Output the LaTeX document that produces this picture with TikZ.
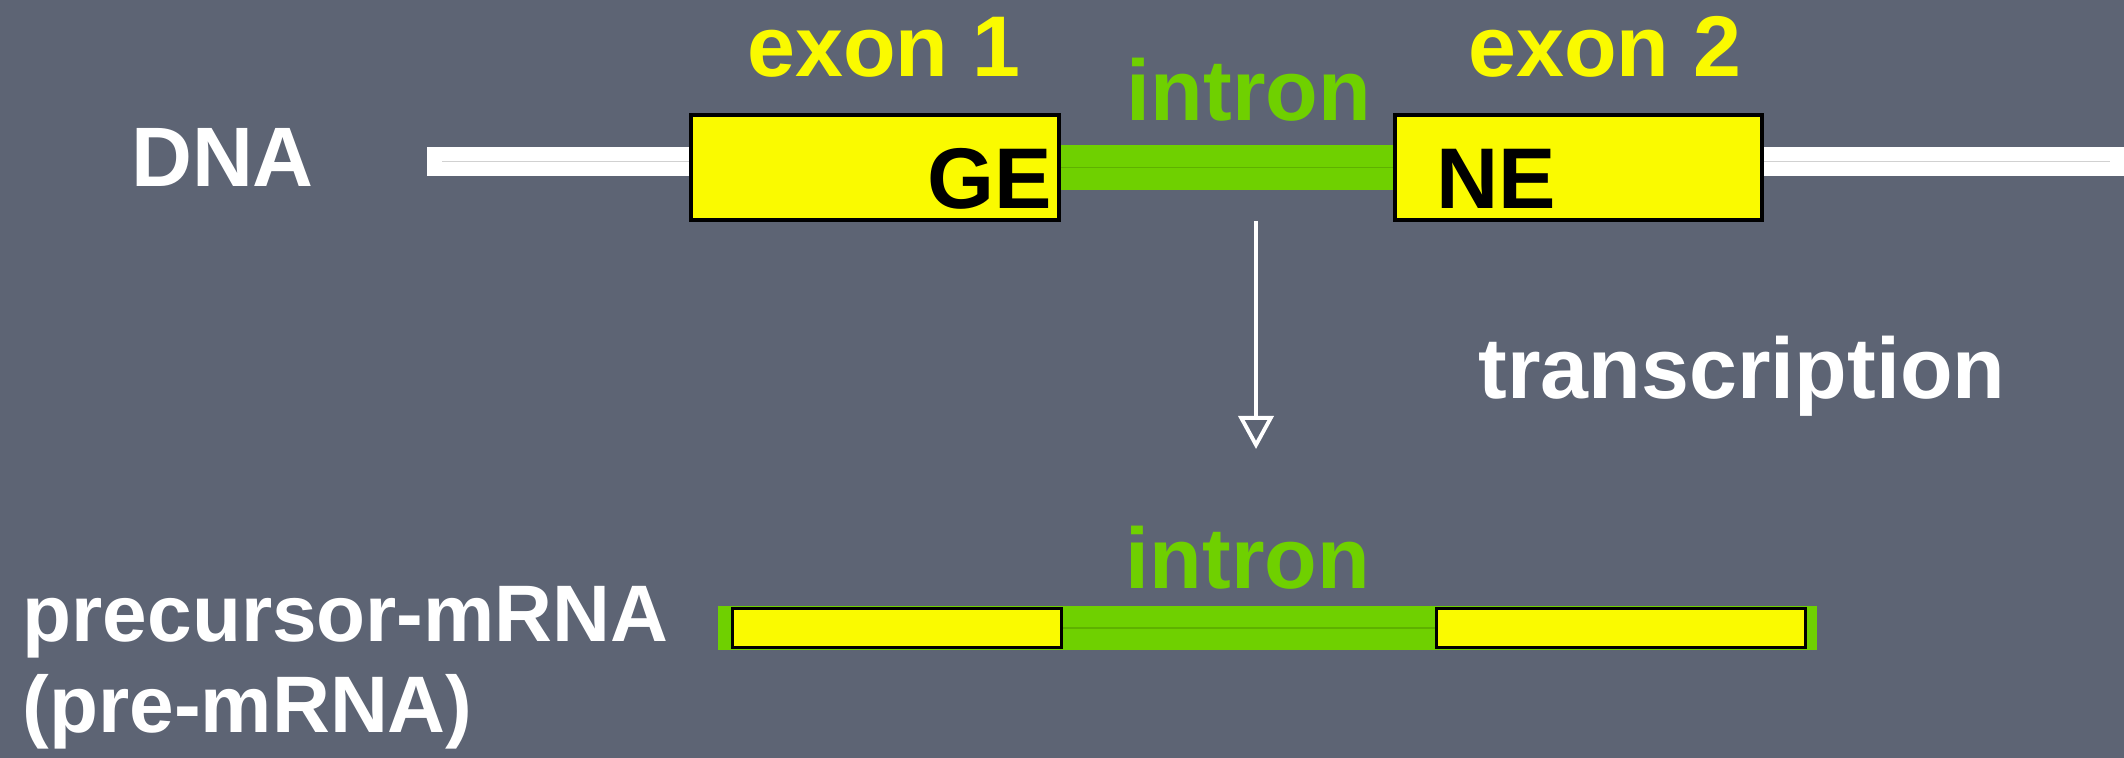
\documentclass[tikz,border=0pt]{standalone}
\usepackage{fontspec}
\setmainfont{Liberation Sans}
\usetikzlibrary{arrows.meta,backgrounds}
\definecolor{slate}{RGB}{93,100,116}
\definecolor{exonyel}{RGB}{250,250,0}
\definecolor{introngrn}{RGB}{111,208,0}
\begin{document}
\begin{tikzpicture}[x=0.01cm, y=-0.01cm,
  lbl/.style={font=\bfseries\fontsize{24.5}{29}\selectfont, inner sep=0pt, anchor=base},
  exon/.style={draw=black, fill=exonyel, line width=1.1pt, inner sep=0pt},
  strand/.style={white, line width=0.29cm},
  intronbar/.style={introngrn, line width=0.45cm}]
\useasboundingbox (0,0) rectangle (2124,758);
\coordinate (dnastart) at (427,161.5);
\coordinate (dnaend) at (2124,161.5);
\coordinate (rnastart) at (718,628);
\coordinate (rnaend) at (1817,628);
\coordinate (txtop) at (1256,221);
\coordinate (txbot) at (1256,449);
% DNA with the two exons
\node[exon, minimum width=3.68cm, minimum height=1.05cm] (exon1) at (875,167.5) {};
\node[exon, minimum width=3.67cm, minimum height=1.05cm] (exon2) at (1578.5,167.5) {};
\node[lbl, white, font=\bfseries\fontsize{24}{29}\selectfont] (dna) at (222.5,187) {DNA};
\node[lbl, exonyel] (ex1lbl) at (884,77) {exon 1};
\node[lbl, exonyel] (ex2lbl) at (1605,77) {exon 2};
\node[lbl, introngrn] (inlbl) at (1249,121) {intron};
\node[lbl, black] (ge) at (990,209) {GE};
\node[lbl, black] (ne) at (1496,209) {NE};
% transcription
\draw[white, line width=1.1pt, -{Triangle[open, length=0.33cm, width=0.35cm]}] (txtop) -- (txbot);
\node[lbl, white] (tx) at (1742,399) {transcription};
% pre-mRNA
\node[exon, line width=0.85pt, minimum width=3.28cm, minimum height=0.38cm] (rna1) at (897,628) {};
\node[exon, line width=0.85pt, minimum width=3.68cm, minimum height=0.38cm] (rna2) at (1621,628) {};
\node[lbl, introngrn] (inlbl2) at (1248,588) {intron};
\node[lbl, white, anchor=north west, align=left, font=\bfseries\fontsize{22.8}{25.9}\selectfont] (pre) at (22,586) {precursor-mRNA\\(pre-mRNA)};
\begin{scope}[on background layer]
\fill[slate] (0,0) rectangle (2124,758);
\draw[strand] (dnastart) -- (dnaend);
\draw[black!18, line width=0.3pt] ([xshift=0.15cm]dnastart) -- ([xshift=-0.14cm]dnaend);
\draw[intronbar] (exon1.east) -- (exon2.west);
\draw[introngrn!85!black, line width=0.3pt] (exon1.east) -- (exon2.west);
\draw[intronbar, line width=0.44cm] (rnastart) -- (rnaend);
\draw[introngrn!85!black, line width=0.3pt] (rna1.east) -- (rna2.west);
\end{scope}
\end{tikzpicture}
\end{document}
